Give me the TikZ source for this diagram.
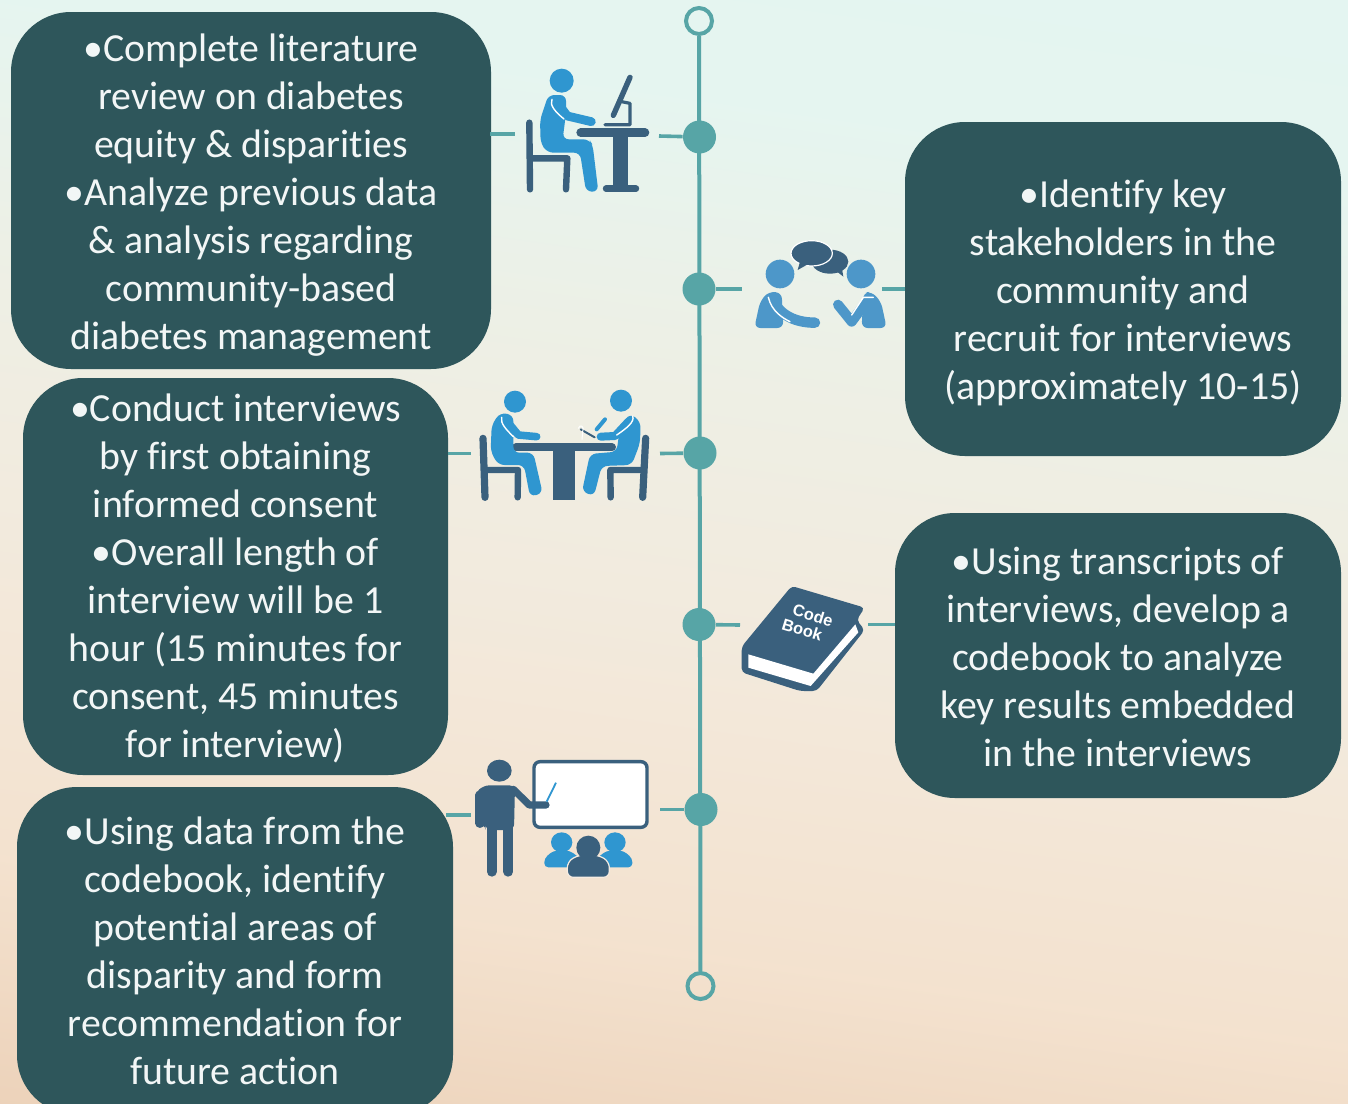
\documentclass[tikz,border=0pt]{standalone}
\usepackage{fontspec}
\usepackage{xcolor}
\setmainfont[Ligatures=NoCommon]{Carlito}
\newfontfamily\bookfont{Liberation Sans}
\usetikzlibrary{calc}
\definecolor{boxfill}{HTML}{2E565B}
\definecolor{boxtext}{HTML}{F2F6F6}
\definecolor{teal}{HTML}{57A5A6}
\definecolor{iconblue}{HTML}{2F96D0}
\definecolor{softblue}{HTML}{4D97C9}
\definecolor{icondark}{HTML}{3A607D}
\pgfdeclareverticalshading{paper}{100bp}{
  rgb(0bp)=(0.90,0.76,0.65);
  rgb(22bp)=(0.92,0.81,0.71);
  rgb(34bp)=(0.955,0.885,0.81);
  rgb(48bp)=(0.95,0.92,0.87);
  rgb(58bp)=(0.93,0.94,0.90);
  rgb(68bp)=(0.90,0.96,0.94);
  rgb(100bp)=(0.87,0.97,0.96)}
\tikzset{
  boxnode/.style={fill=boxfill, text=boxtext, rounded corners=30pt, align=center, inner sep=0pt,
    font=\fontsize{19.9}{24}\selectfont},
  spine/.style={draw=teal, line width=2pt},
  stub/.style={draw=teal, line width=1.8pt},
  dotnode/.style={circle, fill=teal, inner sep=0pt, minimum size=16.5pt},
  ringnode/.style={circle, draw=teal, line width=2pt, inner sep=0pt, minimum size=13pt},
  iconzoom/.style={scale=1/3},
  darkline/.style={draw=icondark, line cap=round, line join=round},
  blueline/.style={draw=iconblue, line cap=round, line join=round},
  softline/.style={draw=softblue, line cap=round, line join=round},
  edgeline/.style={draw=white, line width=0.7pt, line cap=round}
}
\begin{document}
\begin{tikzpicture}[x=0.5pt,y=-0.5pt]
  \useasboundingbox (0,0) rectangle (1348,1103);
  \clip (0,0) rectangle (1348,1103);
  \shade[shading=paper, shading angle=-8] (-60,-60) rectangle (1408,1163);

  \node[boxnode, minimum width=240pt, minimum height=178.5pt] (boxA) at (251,190.5) {%
    \rule{0pt}{18.5pt}•Complete literature\\review on diabetes\\equity \& disparities\\•Analyze previous data\\\& analysis regarding\\community-based\\diabetes management};
  \node[boxnode, minimum width=218pt, minimum height=167pt] (boxB) at (1123,289) {%
    \rule{0pt}{17.5pt}•Identify key\\stakeholders in the\\community and\\recruit for interviews\\(approximately 10-15)};
  \node[boxnode, minimum width=212.5pt, minimum height=198.5pt] (boxC) at (235.5,576.5) {%
    \rule{0pt}{16pt}•Conduct interviews\\by first obtaining\\informed consent\\•Overall length of\\interview will be 1\\hour (15 minutes for\\consent, 45 minutes\\for interview)};
  \node[boxnode, minimum width=223pt, minimum height=142.5pt] (boxD) at (1118,655.5) {%
    \rule{0pt}{15.5pt}•Using transcripts of\\interviews, develop a\\codebook to analyze\\key results embedded\\in the interviews};
  \node[boxnode, minimum width=218pt, minimum height=164pt] (boxE) at (235,951) {%
    •Using data from the\\codebook, identify\\potential areas of\\disparity and form\\recommendation for\\future action};

  \node[ringnode] (ringTop) at (699,21) {};
  \node[ringnode] (ringBot) at (700.5,986) {};
  \draw[spine] (ringTop) -- (ringBot);
  \node[dotnode] (dotA) at (699.5,137) {};
  \node[dotnode] (dotB) at (699,289) {};
  \node[dotnode] (dotC) at (700,453) {};
  \node[dotnode] (dotD) at (699,624.5) {};
  \node[dotnode] (dotE) at (701,809.5) {};

  \coordinate (stubA1) at (490,134);
  \coordinate (stubA2) at (515,134);
  \coordinate (stubA3) at (659,136);
  \coordinate (stubB1) at (742,289);
  \coordinate (stubB2) at (882,289);
  \coordinate (stubB3) at (905,289);
  \coordinate (stubC1) at (448,453.5);
  \coordinate (stubC2) at (471,453.5);
  \coordinate (stubC3) at (660,453.5);
  \coordinate (stubD1) at (740,625);
  \coordinate (stubD2) at (868,624.5);
  \coordinate (stubD3) at (895,624.5);
  \coordinate (stubE1) at (446,815);
  \coordinate (stubE2) at (471,815);
  \coordinate (stubE3) at (660,809.5);
  \draw[stub] (stubA1) -- (stubA2);
  \draw[stub] (stubA3) -- (dotA);
  \draw[stub] (dotB) -- (stubB1);
  \draw[stub] (stubB2) -- (stubB3);
  \draw[stub] (stubC1) -- (stubC2);
  \draw[stub] (stubC3) -- (dotC);
  \draw[stub] (dotD) -- (stubD1);
  \draw[stub] (stubD2) -- (stubD3);
  \draw[stub] (stubE1) -- (stubE2);
  \draw[stub] (stubE3) -- (dotE);

  % person at the desk
  \begin{scope}[shift={(490,50)}, iconzoom]
    \draw[darkline, line width=3.2pt] (118,218) -- (120,418);
    \draw[darkline, line width=3.2pt] (120,325) -- (232,325) -- (228,418);
    \draw[darkline, line width=4.3pt] (272,248) -- (465,248);
    \fill[icondark] (370,248) rectangle (415,412);
    \draw[darkline, line width=3.2pt] (348,416) -- (438,416);
    \draw[darkline, line width=2.7pt] (370,196) -- (420,82);
    \draw[darkline, line width=1.6pt] (395,155) -- (420,160) -- (420,224) -- (345,224);
    \fill[iconblue] (215,92) circle (36);
    \fill[iconblue, rounded corners=3pt] (175,135) -- (228,135) -- (228,190) -- (218,268) -- (298,268)
      -- (308,285) -- (325,425) -- (288,425) -- (270,308) -- (172,308) -- (152,280) -- (150,210) -- cycle;
    \draw[blueline, line width=4.4pt] (200,155) -- (232,198) -- (304,215);
    \draw[edgeline] (186,148) .. controls (178,165) and (195,185) .. (222,207);
  \end{scope}

  % two people talking
  \begin{scope}[shift={(700,220)}, iconzoom]
    \fill[icondark] (390,125) ellipse (55 and 36);
    \fill[icondark] (405,150) -- (430,170) -- (425,140) -- cycle;
    \fill[icondark, draw=white, line width=0.6pt] (335,100) ellipse (62 and 38);
    \fill[icondark] (300,125) -- (293,150) -- (325,132) -- cycle;
    \fill[softblue] (240,162) circle (43);
    \fill[softblue] (483,162) circle (43);
    \fill[softblue, rounded corners=3pt] (163,324) -- (180,245) -- (205,215) -- (245,218) -- (250,324) -- cycle;
    \draw[softline, line width=5.2pt] (218,240) .. controls (240,285) and (285,308) .. (345,308);
    \draw[edgeline] (205,232) .. controls (215,275) and (250,295) .. (270,305);
    \fill[softblue, rounded corners=3pt] (560,324) -- (543,245) -- (515,215) -- (490,218) -- (485,324) -- cycle;
    \draw[softline, line width=5pt] (503,240) -- (455,305) -- (414,254);
    \draw[edgeline] (520,232) -- (490,232) -- (455,285);
  \end{scope}

  % interview at the table
  \begin{scope}[shift={(450,380)}, iconzoom]
    \draw[darkline, line width=3.6pt] (99,175) -- (105,352);
    \draw[darkline, line width=3.2pt] (105,270) -- (204,270) -- (203,352);
    \draw[darkline, line width=3.6pt] (587,175) -- (578,352);
    \draw[darkline, line width=3.2pt] (580,270) -- (481,270) -- (482,352);
    \draw[darkline, line width=4pt] (198,202) -- (486,202);
    \fill[icondark] (308,202) rectangle (376,360);
    \fill[iconblue] (195,65) circle (33);
    \fill[iconblue] (513,62) circle (33);
    \fill[iconblue, rounded corners=3pt] (150,98) -- (190,105) -- (190,218) -- (250,218) -- (278,340) -- (240,350)
      -- (222,255) -- (145,255) -- (122,215) -- (125,135) -- cycle;
    \draw[blueline, line width=3.8pt] (170,122) -- (205,165) -- (260,170);
    \draw[edgeline] (155,112) .. controls (150,130) and (170,150) .. (190,170);
    \fill[iconblue, rounded corners=3pt] (540,100) -- (572,125) -- (570,190) -- (545,255) -- (455,258) -- (432,348)
      -- (396,335) -- (420,222) -- (500,215) -- (510,140) -- cycle;
    \draw[blueline, line width=4pt] (535,125) -- (495,168) -- (452,170);
    \draw[edgeline] (548,108) .. controls (555,125) and (530,145) .. (500,165);
    \draw[blueline, line width=2pt] (440,148) -- (465,118);
    \draw[darkline, line width=1pt] (392,148) -- (434,172);
    \draw[edgeline, line width=0.5pt] (385,145) .. controls (390,130) and (405,140) .. (398,155) -- (396,178);
  \end{scope}

  % code book
  \begin{scope}[shift={(720,575)}, iconzoom]
    \fill[icondark, rounded corners=2pt] (215,33) -- (434,98) -- (410,135) -- (434,165) -- (290,348) -- (240,348)
      -- (65,292) -- (65,215) -- cycle;
    \fill[white] (85,238) -- (85,278) -- (272,333) -- (415,172) -- (406,148) -- (280,296) -- cycle;
    \node[text=white, rotate=-17, align=center, inner sep=0pt, font=\bookfont\bfseries\fontsize{8.2}{8.6}\selectfont]
      (bookTitle) at (254,140) {\hspace*{6pt}Code\\Book};
  \end{scope}

  % teacher at the board
  \begin{scope}[shift={(450,750)}, iconzoom]
    \fill[icondark] (148,62) ellipse (37 and 33);
    \fill[icondark, rounded corners=3pt] (76,130) -- (100,106) -- (195,106) -- (192,240) -- (108,240) -- (104,222) -- (76,222) -- cycle;
    \draw[darkline, line width=4.6pt] (90,135) -- (90,220);
    \draw[darkline, line width=5pt] (125,225) -- (125,365);
    \draw[darkline, line width=5pt] (175,225) -- (175,365);
    \draw[rounded corners=3pt, fill=white, draw=icondark, line width=1.7pt] (252,35) rectangle (591,232);
    \draw[darkline, line width=3.6pt] (190,118) -- (238,165) -- (288,165);
    \draw[iconblue, line width=0.9pt] (290,155) -- (318,98);
    \fill[iconblue] (335,277) ellipse (32 and 30);
    \fill[iconblue] (495,277) ellipse (32 and 30);
    \fill[iconblue, rounded corners=2pt] (283,352) -- (283,325) -- (310,302) -- (360,302) -- (390,325) -- (390,352) -- cycle;
    \fill[iconblue, rounded corners=2pt] (547,352) -- (547,325) -- (520,302) -- (470,302) -- (440,325) -- (440,352) -- cycle;
    \fill[icondark, draw=white!85!brown, line width=0.6pt, rounded corners=3pt] (352,382) -- (352,335) -- (385,315) -- (445,315) -- (478,335) -- (478,382) -- cycle;
    \fill[icondark] (415,293) ellipse (36 and 36);
  \end{scope}
\end{tikzpicture}
\end{document}
